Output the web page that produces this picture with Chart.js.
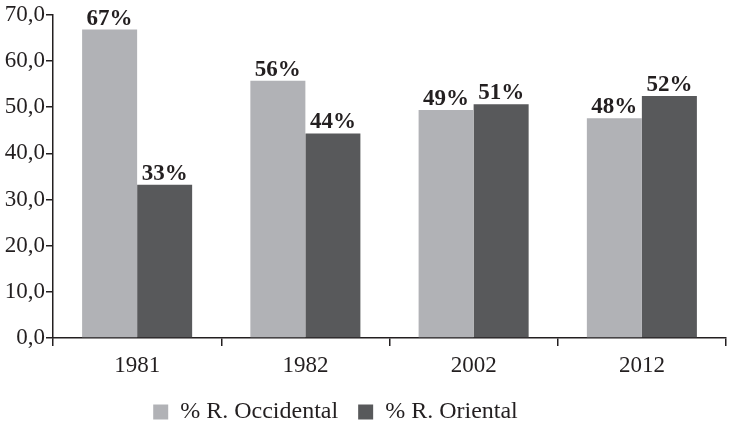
<!DOCTYPE html>
<html>
<head>
<meta charset="utf-8">
<script src="https://cdn.jsdelivr.net/npm/chart.js@4/dist/chart.umd.min.js"></script>
<style>
  html, body { margin: 0; padding: 0; background: #fff; }
  #wrap { width: 729px; height: 425px; }
</style>
</head>
<body>
<div id="wrap"><canvas id="chart"></canvas></div>
<script>
var years = ["1981", "1982", "2002", "2012"];
var occidental = [66.8, 55.7, 49.4, 47.6];
var oriental = [33.2, 44.3, 50.6, 52.4];
var occidentalLabels = ["67%", "56%", "49%", "48%"];
var orientalLabels = ["33%", "44%", "51%", "52%"];

var serif = "'Liberation Serif', 'Times New Roman', serif";
var ink = "#231f20";

// % labels on top of the bars
var barLabels = {
  id: "barLabels",
  afterDatasetsDraw: function(chart) {
    var ctx = chart.ctx;
    ctx.save();
    ctx.font = "bold 23px " + serif;
    ctx.fillStyle = ink;
    ctx.textAlign = "center";
    ctx.textBaseline = "alphabetic";
    chart.data.datasets.forEach(function(ds, i) {
      chart.getDatasetMeta(i).data.forEach(function(bar, j) {
        ctx.fillText(ds.valueLabels[j], bar.x, bar.y - 5);
      });
    });
    ctx.restore();
  }
};

new Chart(document.getElementById("chart"), {
  type: "bar",
  data: {
    labels: years,
    datasets: [
      {
        label: "% R. Occidental",
        data: occidental,
        valueLabels: occidentalLabels,
        backgroundColor: "#b1b2b6"
      },
      {
        label: "% R. Oriental",
        data: oriental,
        valueLabels: orientalLabels,
        backgroundColor: "#58595b"
      }
    ]
  },
  options: {
    responsive: true,
    maintainAspectRatio: false,
    animation: false,
    // negative left/bottom so the legend sits where the original has it
    layout: { padding: { top: 1, right: 3, left: -55, bottom: -9 } },
    datasets: { bar: { barPercentage: 1, categoryPercentage: 0.654 } },
    scales: {
      x: {
        grid: { drawOnChartArea: false, drawTicks: true, tickLength: 8, color: ink, lineWidth: 1.5 },
        border: { display: true, color: ink, width: 1.5 },
        ticks: { color: ink, font: { family: serif, size: 23 }, padding: 6 },
        afterFit: function(scale) { scale.height = 42; }
      },
      y: {
        min: 0,
        max: 70,
        grid: { drawOnChartArea: false, drawTicks: true, tickLength: 7, color: ink, lineWidth: 1.5 },
        border: { display: true, color: ink, width: 1.5 },
        ticks: {
          stepSize: 10,
          color: ink,
          font: { family: serif, size: 23 },
          padding: 1,
          callback: function(v) { return v.toFixed(1).replace(".", ","); }
        },
        afterFit: function(scale) { scale.width = 108; }
      }
    },
    plugins: {
      legend: {
        position: "bottom",
        labels: {
          boxWidth: 15,
          boxHeight: 15,
          padding: 20,
          color: ink,
          font: { family: serif, size: 24 }
        }
      },
      tooltip: { enabled: false }
    }
  },
  plugins: [barLabels]
});
</script>
</body>
</html>
